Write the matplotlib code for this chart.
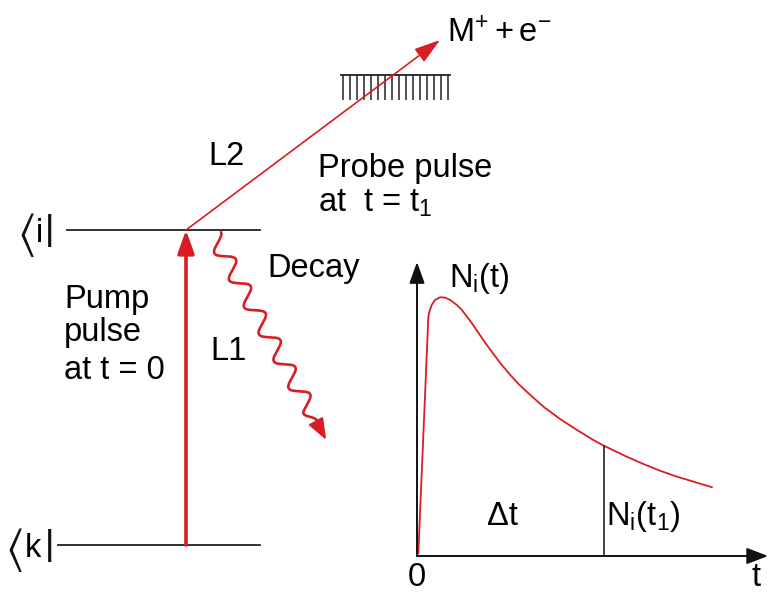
import numpy as np
import matplotlib.pyplot as plt

plt.rcParams['font.family'] = ['Liberation Sans', 'DejaVu Sans']
plt.rcParams['mathtext.fontset'] = 'custom'
plt.rcParams['mathtext.rm'] = 'Liberation Sans'
plt.rcParams['mathtext.it'] = 'Liberation Sans:italic'

RED = '#d81e22'
FS = 23.5

# population of the excited level after the pump pulse (arbitrary units)
t_vals = [0.04, 0.34, 0.37, 0.44, 0.54, 0.69, 0.84, 0.99, 1.19, 1.34, 1.49,
          1.64, 1.79, 2.03, 2.28, 2.53, 2.78, 3.03, 3.28, 3.78, 4.28, 4.78,
          5.27, 5.59, 6.27, 6.77, 7.27, 7.77, 8.27, 8.82]
n_vals = [0.009, 0.814, 0.831, 0.854, 0.871, 0.880, 0.879, 0.871, 0.854,
          0.837, 0.815, 0.792, 0.767, 0.727, 0.688, 0.651, 0.617, 0.586,
          0.559, 0.508, 0.466, 0.429, 0.395, 0.375, 0.338, 0.313, 0.290,
          0.270, 0.253, 0.234]
probe_idx = 23  # sample taken by the probe pulse at t1

# energy levels of the level scheme
level_labels = ['i', 'k']
level_y = [230, 545]
level_x0 = [67, 58]
label_x = [36, 25]     # left edge of the state letter
bracket_x = [35, 23]   # right edge of the angle bracket
level_x1 = 260

fig = plt.figure(figsize=(7.69, 5.93), dpi=100)
ax = fig.add_axes([0, 0, 1, 1])
ax.set_xlim(0, 769)
ax.set_ylim(593, 0)
ax.axis('off')


def arrow(a, p0, p1, color, lw, hl, hw):
    a.annotate('', xy=p1, xytext=p0,
               arrowprops=dict(arrowstyle=f'-|>,head_length={hl},head_width={hw}',
                               color=color, lw=lw, shrinkA=0, shrinkB=0,
                               mutation_scale=1))


# levels with bra labels
for lab, y, x0, lx, bx in zip(level_labels, level_y, level_x0, label_x, bracket_x):
    ax.plot([x0, level_x1], [y, y], color='#222222', lw=1.3)
    ax.text(bx, y + 5, r'$\langle$', math_fontfamily='stix', fontsize=34,
            ha='right', va='center', color='#111111')
    ax.text(lx, y + 12, lab, fontsize=FS, va='baseline')
    ax.text(48, y + 5, r'$|$', math_fontfamily='stix', fontsize=34,
            ha='center', va='center', color='#111111')

# pump pulse
pump_x = 186
arrow(ax, (pump_x, level_y[1]), (pump_x, level_y[0]), RED, 2.6, 14, 5)

# probe pulse ionising the molecule
ion_tip = (440, 40)
arrow(ax, (pump_x, level_y[0]), ion_tip, RED, 1.2, 16, 5)

# ionisation limit
ax.plot([341, 450], [75, 75], color='#222222', lw=1.3)
ax.vlines(np.linspace(343, 448, 16), 75, 100, color='#222222', lw=1.1)

# fluorescence decay as a wavy arrow
w0 = np.array([214.0, 236.0])
w1 = np.array([318.0, 425.0])
d = w1 - w0
L = np.hypot(*d)
u = d / L
nrm = np.array([u[1], -u[0]])
s = np.linspace(0, 1, 600)
waves = 7
amp = 8
off = amp * np.sin(2 * np.pi * waves * s + np.pi / 2) * np.minimum(1, (1 - s) * 12)
wx = w0[0] + d[0] * s + nrm[0] * off
wy = w0[1] + d[1] * s + nrm[1] * off
ax.plot(wx, wy, color=RED, lw=1.9, solid_capstyle='round')
arrow(ax, tuple(w1 - u * 2), (w1[0] + u[0] * 17, w1[1] + u[1] * 17), RED, 1.5, 13, 5)

# labels
ax.text(447, 42, r'$\mathrm{M}^{+} + \mathrm{e}^{-}$', fontsize=FS, va='baseline')
ax.text(208, 165, 'L2', fontsize=FS, va='baseline')
ax.text(318, 177, 'Probe pulse', fontsize=FS, va='baseline')
ax.text(318, 212, r'at  t = t$_1$', fontsize=FS, va='baseline')
ax.text(267, 277, 'Decay', fontsize=FS, va='baseline')
ax.text(210, 360, 'L1', fontsize=FS, va='baseline')
ax.text(64, 308, 'Pump', fontsize=FS, va='baseline')
ax.text(64, 341, 'pulse', fontsize=FS, va='baseline')
ax.text(64, 379, 'at t = 0', fontsize=FS, va='baseline')

# inset: population N_i(t)
ins = fig.add_axes([417 / 769, (593 - 556) / 593, (768 - 417) / 769, (556 - 262) / 593])
ins.set_xlim(0, 10.5)
ins.set_ylim(0, 1)
ins.axis('off')
ins.patch.set_alpha(0)
arrow(ins, (0, 0), (10.5, 0), '#111111', 1.4, 13, 5)
arrow(ins, (0, 0), (0, 1), '#111111', 1.4, 13, 4.7)
ins.plot(t_vals, n_vals, color=RED, lw=1.3)
ins.plot([t_vals[probe_idx]] * 2, [0, n_vals[probe_idx]], color='#111111', lw=1.1)

ax.text(449, 287, r'$\mathrm{N_i(t)}$', fontsize=FS, va='baseline')
ax.text(487, 525, '\u0394t', fontsize=FS, va='baseline')
ax.text(606, 525, r'$\mathrm{N_i(t_1)}$', fontsize=FS, va='baseline')
ax.text(417, 586, '0', fontsize=FS, ha='center', va='baseline')
ax.text(756, 586, 't', fontsize=FS, ha='center', va='baseline')

fig.savefig('out.png', dpi=100)
